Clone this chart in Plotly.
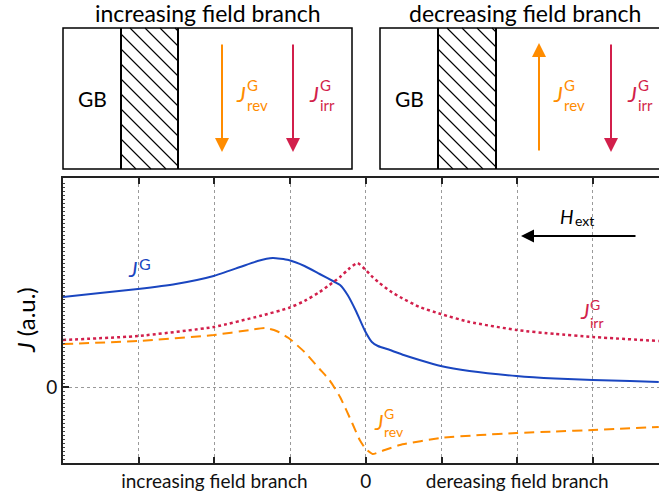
import plotly.graph_objects as go

# ---------------- data (field in tick units, J in a.u.) ----------------
x_jg = [-4.00, -3.51, -3.01, -2.51, -2.01, -1.66, -1.43, -1.23, -1.02, -0.81, -0.61, -0.41,
        -0.34, -0.24, -0.13, -0.01, 0.08, 0.16, 0.32, 0.50, 0.71, 0.99, 1.37, 1.99, 2.50,
        3.00, 3.49, 3.87]
y_jg = [0.90, 0.94, 0.98, 1.03, 1.11, 1.20, 1.26, 1.29, 1.27, 1.21, 1.13, 1.05,
        1.02, 0.92, 0.76, 0.56, 0.45, 0.41, 0.37, 0.32, 0.27, 0.21, 0.16, 0.11, 0.085,
        0.07, 0.06, 0.05]

x_irr = [-4.00, -3.01, -2.01, -1.40, -1.02, -0.81, -0.61, -0.48, -0.34, -0.21, -0.11, 0.00,
         0.09, 0.18, 0.32, 0.45, 0.71, 0.99, 1.37, 1.99, 2.50, 3.00, 3.87]
y_irr = [0.47, 0.51, 0.60, 0.71, 0.79, 0.86, 0.95, 1.02, 1.10, 1.19, 1.24, 1.17,
         1.10, 1.04, 0.96, 0.90, 0.80, 0.73, 0.65, 0.57, 0.53, 0.50, 0.46]

x_rev = [-4.00, -3.01, -2.01, -1.53, -1.33, -1.18, -1.02, -0.81, -0.61, -0.48, -0.34, -0.18,
         -0.08, 0.00, 0.09, 0.25, 0.45, 0.99, 1.51, 1.99, 2.50, 3.00, 3.87]
y_rev = [0.43, 0.46, 0.52, 0.57, 0.59, 0.56, 0.49, 0.35, 0.18, 0.07, -0.10, -0.36,
         -0.53, -0.62, -0.67, -0.63, -0.58, -0.51, -0.48, -0.46, -0.445, -0.43, -0.40]

x_tickvals = [-3, -2, -1, 0, 1, 2, 3]
x_ticktext = ["", "increasing field branch", "", "0", "", "dereasing field branch", ""]
y_tickvals = [0]
y_ticktext = ["0"]

BLUE = "#1a46c0"
RED = "#d21f4b"
ORANGE = "#ff8c00"
FONT = "Lato"
W, H = 659, 498

fig = go.Figure()

fig.add_trace(go.Scatter(x=x_jg, y=y_jg, mode="lines", line=dict(color=BLUE, width=2, shape="spline", smoothing=0.5),
                         showlegend=False, hoverinfo="skip"))
fig.add_trace(go.Scatter(x=x_irr, y=y_irr, mode="lines", line=dict(color=RED, width=2.5, dash="dot", shape="spline", smoothing=0.5),
                         showlegend=False, hoverinfo="skip"))
fig.add_trace(go.Scatter(x=x_rev, y=y_rev, mode="lines", line=dict(color=ORANGE, width=2, dash="10px,6px", shape="spline", smoothing=0.5),
                         showlegend=False, hoverinfo="skip"))

# ---------------- schematic panels (pixel overlay axes x2/y2) ----------------
panels = [
    dict(x0=63, x1=352, h0=121, h1=178, title="increasing field branch", gb=92,
         rev_x=222, rev_up=False, irr_x=293),
    dict(x0=380, x1=669, h0=438, h1=496, title="decreasing field branch", gb=409,
         rev_x=539, rev_up=True, irr_x=611),
]
PT, PB = 28, 169
HATCH = 15

annotations = []
shapes = []


def txt(x, y, text, size, color="black", **kw):
    d = dict(x=x, y=y, xref="x2", yref="y2", text=text, showarrow=False,
             font=dict(family=FONT, size=size, color=color), xanchor="center", yanchor="middle")
    d.update(kw)
    annotations.append(d)


def jlabel(x, y, color, sub, jsize, ssize, stack_x, stack_y):
    txt(x, y, "<i>J</i>", jsize, color)
    txt(stack_x, stack_y, "G<br>" + sub, ssize, color, xanchor="left", align="left")


for p in panels:
    # hatched strip
    h0, h1 = p["h0"], p["h1"]
    span = PB - PT
    c = h0 - span
    while c < h1:
        t0 = max(0, h0 - c)
        t1 = min(span, h1 - c)
        if t1 > t0:
            shapes.append(dict(type="line", xref="x2", yref="y2", x0=c + t0, y0=PT + t0, x1=c + t1, y1=PT + t1,
                               line=dict(color="black", width=1.1), layer="above"))
        c += HATCH
    shapes.append(dict(type="line", xref="x2", yref="y2", x0=h0, x1=h0, y0=PT, y1=PB,
                       line=dict(color="black", width=2), layer="above"))
    shapes.append(dict(type="line", xref="x2", yref="y2", x0=h1, x1=h1, y0=PT, y1=PB,
                       line=dict(color="black", width=2), layer="above"))
    shapes.append(dict(type="rect", xref="x2", yref="y2", x0=p["x0"], x1=p["x1"], y0=PT, y1=PB,
                       line=dict(color="black", width=1.5), layer="above"))
    txt((p["x0"] + p["x1"]) / 2, 13, p["title"], 23)
    txt(p["gb"], 98, "GB", 21)
    # arrows
    if p["rev_up"]:
        hx, hy, tx, ty = p["rev_x"], 43, p["rev_x"], 152
    else:
        hx, hy, tx, ty = p["rev_x"], 152, p["rev_x"], 43
    annotations.append(dict(x=hx, y=hy, ax=tx, ay=ty, xref="x2", yref="y2", axref="x2", ayref="y2",
                            showarrow=True, arrowhead=2, arrowsize=1.4, arrowwidth=2, arrowcolor=ORANGE, text=""))
    annotations.append(dict(x=p["irr_x"], y=152, ax=p["irr_x"], ay=43, xref="x2", yref="y2", axref="x2", ayref="y2",
                            showarrow=True, arrowhead=2, arrowsize=1.4, arrowwidth=2, arrowcolor=RED, text=""))
    jx = p["rev_x"] + 19
    jlabel(jx, 93, ORANGE, "rev", 22, 15, jx + 4, 95)
    jx = p["irr_x"] + 21
    jlabel(jx, 93, RED, "irr", 22, 15, jx + 4, 95)

# labels in main chart
txt(132, 268, "<i>J</i>", 21, BLUE)
txt(145, 263, "G", 16, BLUE)
jlabel(584, 310, RED, "irr", 21, 14, 588, 313)
jlabel(378, 421, ORANGE, "rev", 21, 14, 382, 422)

# H_ext
txt(567, 216, "<i>H</i>", 19)
txt(584, 220, "ext", 14)
annotations.append(dict(x=521, y=236, ax=637, ay=236, xref="x2", yref="y2", axref="x2", ayref="y2",
                        showarrow=True, arrowhead=2, arrowsize=1.3, arrowwidth=2, arrowcolor="black", text=""))

# y axis title
txt(25, 320, "<i>J</i> (a.u.)", 24, textangle=-90)

L, R, T, B = 63, 659, 178, 463
fig.update_layout(
    width=W, height=H, margin=dict(l=0, r=0, t=0, b=0),
    paper_bgcolor="white", plot_bgcolor="rgba(0,0,0,0)",
    font=dict(family=FONT, color="black"),
    xaxis=dict(domain=[L / W, R / W], range=[-4, -4 + (R - L) / 75.7],
               tickvals=x_tickvals, ticktext=x_ticktext, ticks="inside", ticklen=6, tickwidth=1.5,
               tickcolor="#222", showline=True, linecolor="#222", linewidth=2, mirror="ticks",
               showgrid=True, gridcolor="#9a9a9a", griddash="dot", gridwidth=1, zeroline=False,
               tickfont=dict(size=19, family=FONT, color="#111")),
    yaxis=dict(domain=[(H - B) / H, (H - T) / H], range=[-(B - 387) / 100, (387 - T) / 100],
               tickvals=y_tickvals, ticktext=y_ticktext, ticks="inside", ticklen=6, tickwidth=1.5,
               tickcolor="#222", showline=True, linecolor="#222", linewidth=2,
               showgrid=True, gridcolor="#9a9a9a", griddash="dot", gridwidth=1, zeroline=False,
               tickfont=dict(size=19, family=FONT, color="#111"),
               minor=dict(ticks="inside", dtick=0.04, ticklen=2, tickcolor="#444", tickwidth=1, showgrid=False)),
    xaxis2=dict(domain=[0, 1], range=[0, W], visible=False, anchor="y2"),
    yaxis2=dict(domain=[0, 1], range=[H, 0], visible=False, anchor="x2"),
    annotations=annotations, shapes=shapes,
)

fig.write_html("out.html")
